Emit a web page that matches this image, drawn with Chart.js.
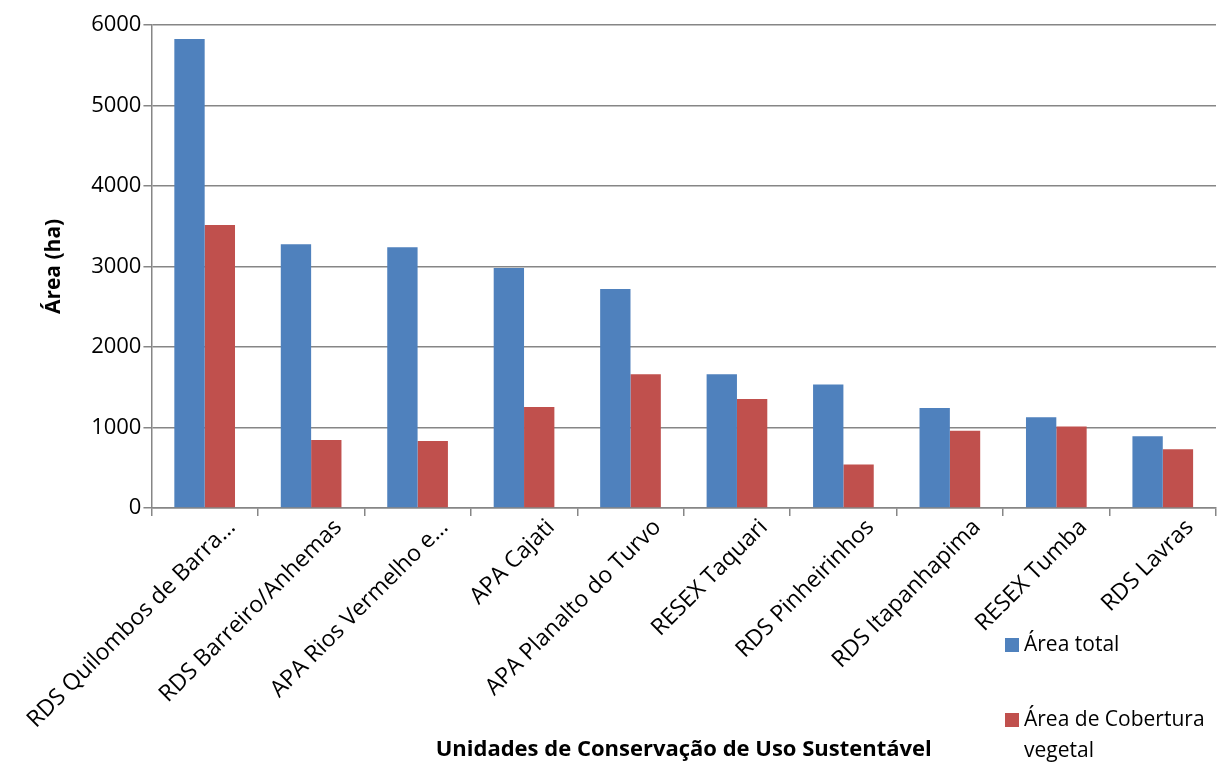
<!DOCTYPE html>
<html>
<head>
<meta charset="utf-8">
<script src="https://cdn.jsdelivr.net/npm/chart.js@4"></script>
<style>
  html, body { margin: 0; padding: 0; background: #fff; }
  #wrap { width: 1229px; height: 765px; }
</style>
</head>
<body>
<div id="wrap"><canvas id="myChart" width="1229" height="765"></canvas></div>
<script>
const categories = [
  "RDS Quilombos de Barra\u2026",
  "RDS Barreiro/Anhemas",
  "APA Rios Vermelho e\u2026",
  "APA Cajati",
  "APA Planalto do Turvo",
  "RESEX Taquari",
  "RDS Pinheirinhos",
  "RDS Itapanhapima",
  "RESEX Tumba",
  "RDS Lavras"
];
const areaTotal = [5826, 3276, 3238, 2981, 2720, 1661, 1532, 1242, 1127, 891];
const areaCobertura = [3516, 845, 832, 1255, 1661, 1354, 538, 960, 1010, 729];
const seriesNames = ["Área total", "Área de Cobertura vegetal"];
const yTicks = [0, 1000, 2000, 3000, 4000, 5000, 6000];

const FONT = "'Open Sans', Lato, sans-serif";

// legend drawn by hand, like the Excel one sitting under the plot on the right
const sideLegend = {
  id: "sideLegend",
  afterDraw(chart) {
    const ctx = chart.ctx;
    const rows = [
      { ds: 0, lines: ["Área total"], y: 645 },
      { ds: 1, lines: ["Área de Cobertura", "vegetal"], y: 720 }
    ];
    ctx.save();
    ctx.font = "21px " + FONT;
    ctx.textBaseline = "middle";
    rows.forEach((r) => {
      ctx.fillStyle = chart.data.datasets[r.ds].backgroundColor;
      ctx.fillRect(1005, r.y - 7, 14, 14);
      ctx.fillStyle = "#000";
      r.lines.forEach((t, i) => ctx.fillText(t, 1024, r.y + i * 31));
    });
    ctx.restore();
  }
};

const ctx = document.getElementById("myChart");

new Chart(ctx, {
  type: "bar",
  data: {
    labels: categories,
    datasets: [
      {
        label: seriesNames[0],
        data: areaTotal,
        backgroundColor: "#4F81BD",
        borderWidth: 0,
        categoryPercentage: 0.57,
        barPercentage: 1.0
      },
      {
        label: seriesNames[1],
        data: areaCobertura,
        backgroundColor: "#C0504D",
        borderWidth: 0,
        categoryPercentage: 0.57,
        barPercentage: 1.0
      }
    ]
  },
  options: {
    responsive: false,
    animation: false,
    layout: { padding: { top: 25, right: 13, left: 19, bottom: 2 } },
    plugins: {
      legend: { display: false },
      tooltip: { enabled: false }
    },
    scales: {
      x: {
        grid: {
          offset: true,
          drawOnChartArea: false,
          drawTicks: true,
          tickLength: 8,
          color: "#868686",
          lineWidth: 1.5
        },
        border: { color: "#868686", width: 1.5 },
        ticks: {
          minRotation: 45,
          maxRotation: 45,
          autoSkip: false,
          color: "#000",
          padding: -2,
          labelOffset: 27,
          font: { family: FONT, size: 23 }
        },
        title: {
          display: true,
          text: "Unidades de Conservação de Uso Sustentável",
          color: "#000",
          font: { family: FONT, size: 22, weight: "bold" },
          padding: { top: 5, bottom: 0 }
        }
      },
      y: {
        min: 0,
        max: 6000,
        afterBuildTicks: (scale) => {
          scale.ticks = yTicks.map((v) => ({ value: v }));
        },
        grid: {
          color: "#868686",
          lineWidth: 1.5,
          drawTicks: true,
          tickLength: 8
        },
        border: { color: "#868686", width: 1.5 },
        ticks: {
          color: "#000",
          padding: 2,
          callback: (v) => String(v),
          font: { family: FONT, size: 22 }
        },
        title: {
          display: true,
          text: "Área (ha)",
          color: "#000",
          font: { family: FONT, size: 21, weight: "bold" },
          padding: { top: 0, bottom: 23 }
        }
      }
    }
  },
  plugins: [sideLegend]
});
</script>
</body>
</html>
